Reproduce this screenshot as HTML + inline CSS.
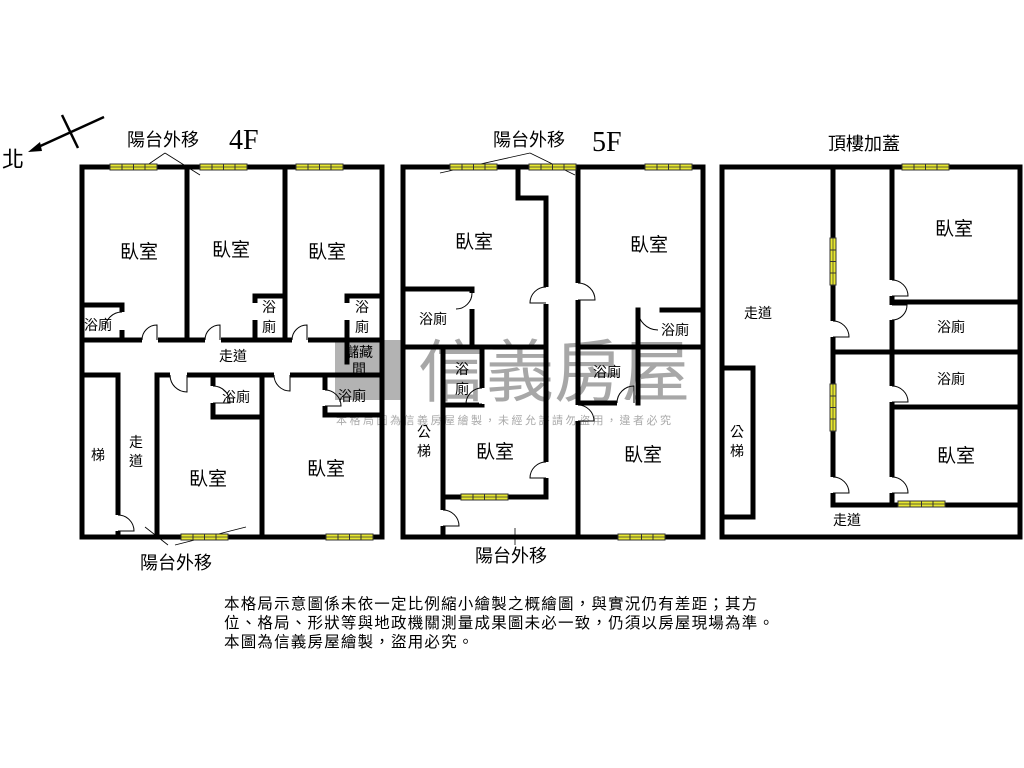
<!DOCTYPE html>
<html><head><meta charset="utf-8"><style>
html,body{margin:0;padding:0;background:#fff;}
svg{display:block;}
text{font-family:"Liberation Sans","Noto Sans CJK TC",sans-serif;fill:#000;}
text.serif{font-family:"Liberation Serif",serif;}
.w{stroke:#000;stroke-width:5;fill:none;stroke-linecap:square;}
.g{fill:#fff;stroke:none;}
.d{stroke:#000;stroke-width:1;fill:none;}
.win{fill:#e8e830;stroke:#333;stroke-width:1;}
</style></head><body>
<svg width="1024" height="768" viewBox="0 0 1024 768" xmlns="http://www.w3.org/2000/svg">
<defs>
<g id="wh"><rect class="win" x="0" y="-3" width="47" height="6"/><line x1="12" y1="-3" x2="12" y2="3" stroke="#333"/><line x1="23.5" y1="-3" x2="23.5" y2="3" stroke="#333"/><line x1="35" y1="-3" x2="35" y2="3" stroke="#333"/><line x1="0" y1="0" x2="47" y2="0" stroke="#333" stroke-width="0.7"/></g>
<g id="wv"><rect class="win" x="-3" y="0" width="6" height="47"/><line x1="-3" y1="12" x2="3" y2="12" stroke="#333"/><line x1="-3" y1="23.5" x2="3" y2="23.5" stroke="#333"/><line x1="-3" y1="35" x2="3" y2="35" stroke="#333"/><line x1="0" y1="0" x2="0" y2="47" stroke="#333" stroke-width="0.7"/></g>
</defs>

<line x1="104" y1="117" x2="36" y2="148" stroke="#000" stroke-width="2.5"/>
<polygon points="28,152 40,142 42,151" fill="#000"/>
<line x1="62" y1="115" x2="78" y2="148" stroke="#000" stroke-width="2.5"/>
<text x="2" y="167" font-size="22">北</text>

<text x="127" y="146" font-size="18">陽台外移</text>
<text class="serif" x="229" y="149" font-size="28">4F</text>
<line x1="165" y1="153" x2="140" y2="170" stroke="#000" stroke-width="0.8"/>
<line x1="165" y1="153" x2="200" y2="175" stroke="#000" stroke-width="0.8"/>
<text x="493" y="146" font-size="18">陽台外移</text>
<text class="serif" x="592" y="151" font-size="28">5F</text>
<line x1="530" y1="153" x2="440" y2="173" stroke="#000" stroke-width="0.8"/>
<line x1="530" y1="153" x2="575" y2="175" stroke="#000" stroke-width="0.8"/>
<text x="828" y="150" font-size="18">頂樓加蓋</text>
<text x="140" y="569" font-size="18">陽台外移</text>
<line x1="145" y1="527" x2="168" y2="545" stroke="#000" stroke-width="0.8"/>
<line x1="175" y1="545" x2="246" y2="527" stroke="#000" stroke-width="0.8"/>
<text x="475" y="562" font-size="18">陽台外移</text>
<line x1="515" y1="528" x2="515" y2="545" stroke="#000" stroke-width="0.8"/>

<rect x="335" y="340" width="67" height="60" fill="#9a9a9a" opacity="0.75"/>
<text x="418" y="396" font-size="68" style="fill:#8a8a8a" opacity="0.75">信義房屋</text>
<text x="336" y="424" font-size="11" style="fill:#aaa" letter-spacing="2.5">本格局圖為信義房屋繪製，未經允許請勿盜用，違者必究</text>

<!-- 4F -->
<rect class="w" x="82" y="167" width="300" height="370"/>
<path class="w" d="M187 167V340 M285 167V340 M82 340H382 M82 375H118V537 M157 537V375H382 M262 375V537
M82 305H122V340 M255 340V296H285 M347 340V296H382 M347 340V362
M213 375V417H262 M325 375V415H382"/>
<rect class="g" x="142" y="337" width="16" height="6"/><rect class="g" x="205" y="337" width="16" height="6"/><rect class="g" x="292" y="337" width="16" height="6"/>
<rect class="g" x="170" y="372" width="17" height="6"/><rect class="g" x="274" y="372" width="16" height="6"/>
<rect class="g" x="119" y="312" width="6" height="18"/><rect class="g" x="252" y="303" width="6" height="17"/><rect class="g" x="344" y="303" width="6" height="17"/>
<rect class="g" x="210" y="386" width="6" height="17"/><rect class="g" x="322" y="390" width="6" height="16"/>
<rect class="g" x="115" y="515" width="6" height="16"/>
<path class="d" d="M142 340A15 15 0 0 1 157 325V340 M205 340A15 15 0 0 1 220 325V340 M292 340A15 15 0 0 1 307 325V340
M170 375A17 17 0 0 0 187 392V375 M274 375A16 16 0 0 0 290 391V375
M122 312A17 17 0 0 0 105 329 M213 386A17 17 0 0 1 230 403H213 M325 390A16 16 0 0 1 341 406H325 M118 515A16 16 0 0 1 134 531H118"/>
<use href="#wh" x="110" y="167"/><use href="#wh" x="200" y="167"/><use href="#wh" x="296" y="167"/>
<use href="#wh" x="181" y="537"/><use href="#wh" x="326" y="537"/>
<text x="120" y="258" font-size="19">臥室</text><text x="212" y="256" font-size="19">臥室</text><text x="308" y="258" font-size="19">臥室</text>
<text x="84" y="330" font-size="14">浴廁</text>
<text x="262" y="312" font-size="14">浴</text><text x="262" y="332" font-size="14">廁</text>
<text x="355" y="312" font-size="14">浴</text><text x="355" y="332" font-size="14">廁</text>
<text x="345" y="357" font-size="14">儲藏</text><text x="352" y="374" font-size="14">間</text>
<text x="219" y="361" font-size="14">走道</text>
<text x="222" y="402" font-size="14">浴廁</text><text x="338" y="401" font-size="14">浴廁</text>
<text x="91" y="460" font-size="14">梯</text>
<text x="129" y="447" font-size="14">走</text><text x="129" y="466" font-size="14">道</text>
<text x="189" y="485" font-size="19">臥室</text><text x="307" y="475" font-size="19">臥室</text>

<!-- 5F -->
<rect class="w" x="403" y="167" width="300" height="370"/>
<path class="w" d="M518 167V198H546V497H443 M578 167V537 M403 347H546 M578 347H703
M403 289H472V347 M443 347V537 M482 347V405H443 M638 347V310 M662 310H703 M578 403H615 M638 347V403"/>
<rect class="g" x="543" y="287" width="6" height="17"/><rect class="g" x="543" y="462" width="6" height="16"/>
<rect class="g" x="575" y="283" width="6" height="17"/><rect class="g" x="575" y="405" width="6" height="16"/>
<rect class="g" x="469" y="293" width="6" height="16"/><rect class="g" x="440" y="510" width="6" height="16"/>
<rect class="g" x="479" y="388" width="6" height="16"/><rect class="g" x="617" y="400" width="17" height="6"/>
<path class="d" d="M546 287A16 16 0 0 0 530 303H546 M546 462A16 16 0 0 0 530 478H546 M578 283A17 17 0 0 1 595 300H578 M578 405A16 16 0 0 1 594 421H578
M472 293A16 16 0 0 1 456 309 M443 510A16 16 0 0 1 459 526H443 M482 388A16 16 0 0 0 466 404H482 M617 403A17 17 0 0 1 634 386V403 M638 310A20 20 0 0 0 658 330"/>
<use href="#wh" x="450" y="167"/><use href="#wh" x="529" y="167"/><use href="#wh" x="645" y="167"/>
<use href="#wh" x="461" y="497"/><use href="#wh" x="618" y="537"/>
<text x="455" y="248" font-size="19">臥室</text><text x="630" y="251" font-size="19">臥室</text>
<text x="419" y="324" font-size="14">浴廁</text><text x="661" y="335" font-size="14">浴廁</text>
<text x="455" y="374" font-size="14">浴</text><text x="455" y="394" font-size="14">廁</text>
<text x="593" y="377" font-size="14">浴廁</text>
<text x="417" y="437" font-size="14">公</text><text x="417" y="456" font-size="14">梯</text>
<text x="476" y="458" font-size="19">臥室</text><text x="624" y="461" font-size="19">臥室</text>

<!-- Roof -->
<rect class="w" x="722" y="167" width="298" height="370"/>
<path class="w" d="M833 167V505H1020 M892 167V505 M892 302H1020 M833 352H1020 M892 407H1020"/>
<rect class="w" x="722" y="368" width="31" height="149"/>
<rect class="g" x="830" y="321" width="6" height="16"/><rect class="g" x="830" y="477" width="6" height="16"/>
<rect class="g" x="889" y="280" width="6" height="16"/><rect class="g" x="889" y="305" width="6" height="15"/>
<rect class="g" x="889" y="386" width="6" height="16"/><rect class="g" x="889" y="477" width="6" height="16"/>
<path class="d" d="M833 321A16 16 0 0 1 849 337H833 M833 477A16 16 0 0 1 849 493H833 M892 280A16 16 0 0 1 908 296H892 M892 320A15 15 0 0 0 907 305H892 M892 386A16 16 0 0 1 908 402H892 M892 477A16 16 0 0 1 908 493H892"/>
<use href="#wv" x="833" y="238"/><use href="#wv" x="833" y="384"/>
<use href="#wh" x="902" y="167"/><use href="#wh" x="898" y="504"/>
<text x="935" y="235" font-size="19">臥室</text><text x="937" y="462" font-size="19">臥室</text>
<text x="937" y="332" font-size="14">浴廁</text><text x="937" y="384" font-size="14">浴廁</text>
<text x="744" y="318" font-size="14">走道</text><text x="833" y="525" font-size="14">走道</text>
<text x="730" y="437" font-size="14">公</text><text x="730" y="456" font-size="14">梯</text>

<text x="224" y="609" font-size="15.5" letter-spacing="1.2">本格局示意圖係未依一定比例縮小繪製之概繪圖，與實況仍有差距；其方</text>
<text x="224" y="628" font-size="15.5" letter-spacing="1.2">位、格局、形狀等與地政機關測量成果圖未必一致，仍須以房屋現場為準。</text>
<text x="224" y="647" font-size="15.5" letter-spacing="1.2">本圖為信義房屋繪製，盜用必究。</text>
</svg>
</body></html>
